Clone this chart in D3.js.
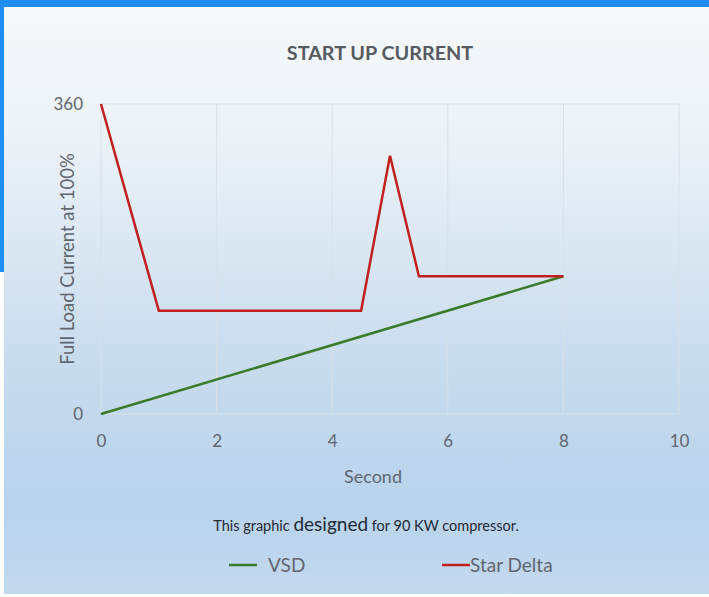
<!DOCTYPE html>
<html>
<head>
<meta charset="utf-8">
<script src="https://cdn.jsdelivr.net/npm/d3@7"></script>
<style>
  html, body { margin: 0; padding: 0; background: #ffffff; }
  svg { display: block; }
  text { font-family: Lato, "Open Sans", sans-serif; }
</style>
</head>
<body>
<svg id="chart" width="709" height="597"></svg>
<script>
// Start-up current in % of full load current, over time in seconds
const vsdSeconds = [0, 8];
const vsdCurrent = [0, 160];
const starDeltaSeconds = [0, 1, 4.5, 5, 5.5, 8];
const starDeltaCurrent = [360, 120, 120, 300, 160, 160];
const xTicks = [0, 2, 4, 6, 8, 10];
const yTicks = [0, 360];
const seriesNames = ["VSD", "Star Delta"];
const seriesColors = ["#3a7a28", "#c0211e"];

const W = 709, H = 597;
const svg = d3.select("#chart");

// panel background: pale at the top, light blue at the bottom
const defs = svg.append("defs");
const grad = defs.append("linearGradient").attr("id", "bg").attr("x1", 0).attr("y1", 0).attr("x2", 0).attr("y2", 1);
grad.append("stop").attr("offset", "0%").attr("stop-color", "#f6f8fa");
grad.append("stop").attr("offset", "20%").attr("stop-color", "#eef3f8");
grad.append("stop").attr("offset", "60%").attr("stop-color", "#c9dcee");
grad.append("stop").attr("offset", "85%").attr("stop-color", "#b8d3ec");
grad.append("stop").attr("offset", "100%").attr("stop-color", "#c3d9ee");

svg.append("rect").attr("x", 0).attr("y", 0).attr("width", W).attr("height", H).attr("fill", "#ffffff");
svg.append("rect").attr("x", 4).attr("y", 7).attr("width", W - 4).attr("height", 587).attr("fill", "url(#bg)");
// blue frame pieces
svg.append("rect").attr("x", 0).attr("y", 0).attr("width", W).attr("height", 7).attr("fill", "#1e8ff5");
svg.append("rect").attr("x", 0).attr("y", 0).attr("width", 4).attr("height", 272).attr("fill", "#1e8ff5");

const x = d3.scaleLinear().domain([0, 10]).range([101, 679]);
const y = d3.scaleLinear().domain([0, 360]).range([414, 104]);

// gridlines
const grid = svg.append("g").attr("stroke", "#d9e0e8").attr("stroke-width", 1);
xTicks.forEach(t => {
  grid.append("line").attr("x1", x(t)).attr("x2", x(t)).attr("y1", y(360)).attr("y2", y(0));
});
yTicks.forEach(t => {
  grid.append("line").attr("x1", x(0)).attr("x2", x(10)).attr("y1", y(t)).attr("y2", y(t));
});

// axes (labels only, no domain lines)
const xAxis = svg.append("g").attr("transform", `translate(0,${y(0)})`)
  .call(d3.axisBottom(x).tickValues(xTicks).tickSize(0).tickPadding(21).tickFormat(d3.format("d")));
const yAxis = svg.append("g").attr("transform", `translate(${x(0)},0)`)
  .call(d3.axisLeft(y).tickValues(yTicks).tickSize(0).tickPadding(18).tickFormat(d3.format("d")));
[xAxis, yAxis].forEach(g => {
  g.select(".domain").remove();
  g.selectAll("text").attr("fill", "#5f6670").style("font-size", "17px").style("font-family", "Lato, sans-serif");
});

// series lines
const line = d3.line().x(d => x(d[0])).y(d => y(d[1]));
const vsd = d3.zip(vsdSeconds, vsdCurrent);
const sd = d3.zip(starDeltaSeconds, starDeltaCurrent);
svg.append("path").datum(vsd).attr("d", line).attr("fill", "none")
  .attr("stroke", seriesColors[0]).attr("stroke-width", 2.5).attr("stroke-linejoin", "round");
svg.append("path").datum(sd).attr("d", line).attr("fill", "none")
  .attr("stroke", seriesColors[1]).attr("stroke-width", 2.5).attr("stroke-linejoin", "miter");

// titles
svg.append("text").attr("x", 380).attr("y", 60).attr("text-anchor", "middle")
  .attr("fill", "#555a60").style("font-size", "19.8px").style("font-weight", "bold")
  .text("START UP CURRENT");
svg.append("text").attr("transform", `translate(74,${(y(0) + y(360)) / 2}) rotate(-90)`)
  .attr("text-anchor", "middle").attr("fill", "#5f6670").style("font-size", "18.5px")
  .text("Full Load Current at 100%");
svg.append("text").attr("x", 373).attr("y", 483).attr("text-anchor", "middle")
  .attr("fill", "#5f6670").style("font-size", "18px").text("Second");

// note
const note = svg.append("text").attr("x", 366).attr("y", 531).attr("text-anchor", "middle")
  .attr("fill", "#1f2a36").style("font-size", "14.5px");
note.append("tspan").text("This graphic ");
note.append("tspan").style("font-size", "19px").text("designed");
note.append("tspan").text(" for 90 KW compressor.");

// legend
const legendX = [229, 442];
const legendTextX = [268, 470];
seriesNames.forEach((name, i) => {
  svg.append("line").attr("x1", legendX[i]).attr("x2", legendX[i] + 28)
    .attr("y1", 565).attr("y2", 565).attr("stroke", seriesColors[i]).attr("stroke-width", 2.5);
  svg.append("text").attr("x", legendTextX[i]).attr("y", 572)
    .attr("fill", "#5f6670").style("font-size", "19px").text(name);
});
</script>
</body>
</html>
